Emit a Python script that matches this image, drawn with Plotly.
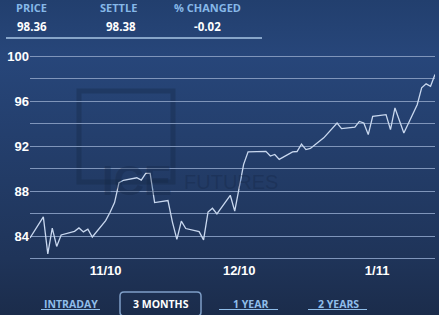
import base64
import plotly.graph_objects as go

# ---------------- data ----------------
dates = [
    "2010-10-15", "2010-10-18", "2010-10-19", "2010-10-20", "2010-10-21", "2010-10-22",
    "2010-10-25", "2010-10-26", "2010-10-27", "2010-10-28", "2010-10-29",
    "2010-11-01", "2010-11-02", "2010-11-03", "2010-11-04", "2010-11-05",
    "2010-11-08", "2010-11-09", "2010-11-10", "2010-11-11", "2010-11-12",
    "2010-11-15", "2010-11-16", "2010-11-17", "2010-11-18", "2010-11-19",
    "2010-11-22", "2010-11-23", "2010-11-24", "2010-11-25", "2010-11-26",
    "2010-11-29", "2010-11-30", "2010-12-01", "2010-12-02", "2010-12-03",
    "2010-12-06", "2010-12-07", "2010-12-08", "2010-12-09", "2010-12-10",
    "2010-12-13", "2010-12-14", "2010-12-15", "2010-12-16", "2010-12-17",
    "2010-12-20", "2010-12-21", "2010-12-22", "2010-12-23", "2010-12-24",
    "2010-12-27", "2010-12-28", "2010-12-29", "2010-12-30", "2010-12-31",
    "2011-01-03", "2011-01-04", "2011-01-05", "2011-01-06", "2011-01-07",
    "2011-01-10", "2011-01-11", "2011-01-12", "2011-01-13", "2011-01-14",
]
prices = [
    83.86, 85.74, 82.45, 84.74, 83.11, 84.13,
    84.45, 84.75, 84.40, 84.65, 83.95,
    85.40, 86.15, 87.00, 88.77, 88.98,
    89.20, 89.00, 89.60, 89.60, 87.00,
    87.18, 85.27, 83.73, 85.36, 84.70,
    84.43, 83.69, 86.16, 86.50, 86.00,
    87.65, 86.24, 88.36, 90.39, 91.50,
    91.56, 91.55, 91.13, 91.27, 90.83,
    91.50, 91.53, 92.18, 91.70, 91.80,
    92.74, 93.20, 93.56, 94.06, 93.56,
    93.70, 94.20, 94.06, 93.03, 94.65,
    94.80, 93.47, 95.39, 94.30, 93.17,
    95.68, 97.18, 97.53, 97.31, 98.36,
]
x_tick_dates = ["2010-11-01", "2010-12-01", "2011-01-01"]
x_tick_labels = ["11/10", "12/10", "1/11"]
y_tick_vals = [84, 88, 92, 96, 100]

header_labels = ["PRICE", "SETTLE", "% CHANGED"]
header_values = ["98.36", "98.38", "-0.02"]
range_buttons = ["INTRADAY", "3 MONTHS", "1 YEAR", "2 YEARS"]

# ---------------- layout geometry ----------------
W, H = 439, 315
L, R, T, B = 30, 4, 55, 54
PW, PH = W - L - R, H - T - B


def px(xp):
    return (xp - L) / PW


def py(yp):
    return (H - B - yp) / PH


svg = f"""<svg xmlns='http://www.w3.org/2000/svg' width='{W}' height='{H}'>
<defs><linearGradient id='g' x1='0' y1='0' x2='0' y2='1'>
<stop offset='0' stop-color='#223f6e'/>
<stop offset='0.18' stop-color='#27467a'/>
<stop offset='0.82' stop-color='#1f3459'/>
<stop offset='1' stop-color='#1b2c4b'/>
</linearGradient></defs>
<rect width='{W}' height='{H}' fill='url(#g)'/></svg>"""
bg_src = "data:image/svg+xml;base64," + base64.b64encode(svg.encode()).decode()

fig = go.Figure()
fig.add_trace(go.Scatter(
    x=dates, y=prices, mode="lines",
    line=dict(color="#c9d8ef", width=1.3),
    hoverinfo="skip", showlegend=False,
))

tick_font = dict(family="Liberation Sans, Arial, sans-serif", size=13, color="white", weight="bold")
grid_col = "#7f95ba"

fig.update_layout(
    width=W, height=H,
    margin=dict(l=L, r=R, t=T, b=B),
    paper_bgcolor="#233c66",
    plot_bgcolor="rgba(0,0,0,0)",
    showlegend=False,
    xaxis=dict(
        type="date",
        range=["2010-10-15", "2011-01-14"],
        tickvals=x_tick_dates, ticktext=x_tick_labels,
        showgrid=False, zeroline=False, showline=False,
        ticks="", tickfont=tick_font, fixedrange=True,
    ),
    yaxis=dict(
        range=[81.82, 100.09],
        tickvals=y_tick_vals,
        showgrid=True, gridcolor=grid_col, gridwidth=1,
        minor=dict(tickvals=[82, 86, 90, 94, 98], showgrid=True, gridcolor=grid_col, gridwidth=1),
        zeroline=False, showline=False,
        ticks="", tickfont=tick_font, fixedrange=True,
    ),
    images=[dict(
        source=bg_src, xref="paper", yref="paper",
        x=px(0), y=py(0), sizex=W / PW, sizey=H / PH,
        xanchor="left", yanchor="top", sizing="stretch", layer="below",
    )],
)

shapes = []
annotations = []

# faint watermark
wm = "rgba(18,36,66,0.32)"
shapes.append(dict(type="rect", xref="paper", yref="paper",
                   x0=px(79), x1=px(173), y0=py(91), y1=py(182),
                   line=dict(color=wm, width=5), layer="below"))
annotations.append(dict(text="ICE", xref="paper", yref="paper", x=px(174), y=py(180),
                        xanchor="right", yanchor="middle",
                        showarrow=False, font=dict(family="Liberation Sans", size=42, color=wm, weight="bold")))
annotations.append(dict(text="FUTURES", xref="paper", yref="paper", x=px(182), y=py(182),
                        xanchor="left", yanchor="middle",
                        showarrow=False, font=dict(family="Liberation Sans", size=20, color=wm)))

# header
hdr_font = dict(family="Open Sans, sans-serif", size=11, color="#86b8e8", weight="bold")
val_font = dict(family="Open Sans, sans-serif", size=11.5, color="white", weight="bold")
for lab, xl in zip(header_labels, [14, 98, 172]):
    annotations.append(dict(text=lab, xref="paper", yref="paper", x=px(xl), y=py(7),
                            xanchor="left", yanchor="middle", showarrow=False, font=hdr_font))
for val, xl in zip(header_values, [15, 104, 192]):
    annotations.append(dict(text=val, xref="paper", yref="paper", x=px(xl), y=py(26),
                            xanchor="left", yanchor="middle", showarrow=False, font=val_font))
shapes.append(dict(type="line", xref="paper", yref="paper",
                   x0=px(6), x1=px(262), y0=py(38), y1=py(38),
                   line=dict(color="#a9c6e6", width=1.5)))

# range buttons
btn_font = dict(family="Open Sans, sans-serif", size=10.5, color="#8fbde9", weight="bold")
btn_centers = [71, 161, 250, 338]
underlines = [(41, 100), None, (219, 278), (308, 367)]
for name, cx, ul in zip(range_buttons, btn_centers, underlines):
    f = dict(btn_font)
    if ul is None:
        f["color"] = "white"
    annotations.append(dict(text=name, xref="paper", yref="paper", x=px(cx), y=py(303.5),
                            xanchor="center", yanchor="middle", showarrow=False, font=f))
    if ul is not None:
        shapes.append(dict(type="line", xref="paper", yref="paper",
                           x0=px(ul[0]), x1=px(ul[1]), y0=py(309.5), y1=py(309.5),
                           line=dict(color="#8fbde9", width=1.2)))
shapes.append(dict(type="path", xref="paper", yref="paper",
                   path=(f"M {px(124)},{py(292)} L {px(197)},{py(292)} "
                         f"Q {px(201)},{py(292)} {px(201)},{py(296)} L {px(201)},{py(312)} "
                         f"Q {px(201)},{py(316)} {px(197)},{py(316)} L {px(124)},{py(316)} "
                         f"Q {px(120)},{py(316)} {px(120)},{py(312)} L {px(120)},{py(296)} "
                         f"Q {px(120)},{py(292)} {px(124)},{py(292)} Z"),
                   line=dict(color="#7f9fc8", width=1.5)))

fig.update_layout(shapes=shapes, annotations=annotations)
fig.write_html("out.html")
